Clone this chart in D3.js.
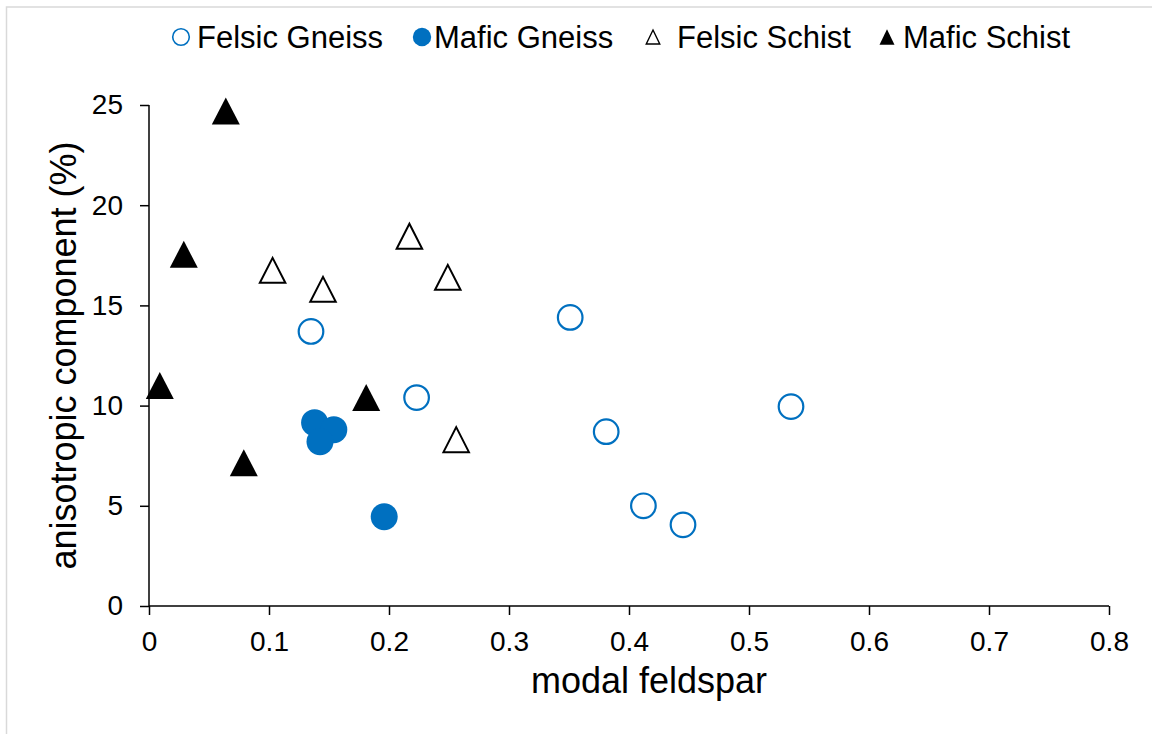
<!DOCTYPE html>
<html>
<head>
<meta charset="utf-8">
<script src="https://cdn.jsdelivr.net/npm/d3@7"></script>
<style>
  html, body { margin: 0; padding: 0; background: #fff; }
  svg text { font-family: "Liberation Sans", Arial, sans-serif; fill: #000; }
</style>
</head>
<body>
<div id="chart"></div>
<script>
const width = 1152;
const height = 734;

// [modal feldspar, anisotropic component %]
const felsicGneiss = [[0.135, 13.7], [0.223, 10.4], [0.351, 14.4], [0.381, 8.7], [0.412, 5.0], [0.445, 4.05], [0.535, 9.95]];
const maficGneiss  = [[0.138, 9.15], [0.154, 8.8], [0.1425, 8.2], [0.196, 4.45]];
const felsicSchist = [[0.103, 16.75], [0.145, 15.8], [0.217, 18.45], [0.249, 16.4], [0.256, 8.3]];
const maficSchist  = [[0.064, 24.7], [0.029, 17.55], [0.009, 11.0], [0.079, 7.15], [0.181, 10.4]];

const seriesNames = ["Felsic Gneiss", "Mafic Gneiss", "Felsic Schist", "Mafic Schist"];
const xTicks = [0, 0.1, 0.2, 0.3, 0.4, 0.5, 0.6, 0.7, 0.8];
const yTicks = [0, 5, 10, 15, 20, 25];

const blue = "#0070C0";

const svg = d3.select("#chart").append("svg")
  .attr("width", width)
  .attr("height", height);

// light frame of the chart area
svg.append("rect")
  .attr("x", 6.5).attr("y", 7)
  .attr("width", width + 20).attr("height", height + 20)
  .attr("fill", "none")
  .attr("stroke", "#d9d9d9")
  .attr("stroke-width", 1.5);

const x = d3.scaleLinear().domain([0, 0.8]).range([149, 1109]);
const y = d3.scaleLinear().domain([0, 25]).range([606, 105]);

const xAxis = svg.append("g")
  .attr("transform", `translate(0,${y(0)})`)
  .call(d3.axisBottom(x).tickValues(xTicks).tickSize(9).tickPadding(16).tickFormat(d => d === 0 ? "0" : d3.format(".1f")(d)));

const yAxis = svg.append("g")
  .attr("transform", `translate(${x(0)},0)`)
  .call(d3.axisLeft(y).tickValues(yTicks).tickSize(9).tickPadding(17));

[xAxis, yAxis].forEach(g => {
  g.select("path.domain").attr("stroke", "#000").attr("stroke-width", 1.5);
  g.selectAll("line").attr("stroke", "#000").attr("stroke-width", 1.5);
  g.selectAll("text").attr("font-size", "28px").attr("fill", "#000")
    .attr("font-family", "'Liberation Sans', Arial, sans-serif");
});
xAxis.select("path.domain").attr("d", `M${x(0)},0H${x(0.8)}`);
yAxis.select("path.domain").attr("d", `M0,${y(25)}V${y(0)}`);

// axis titles
svg.append("text")
  .attr("x", 649)
  .attr("y", 693)
  .attr("text-anchor", "middle")
  .attr("font-size", "36px")
  .text("modal feldspar");

svg.append("text")
  .attr("transform", `translate(76,${(y(0) + y(25)) / 2}) rotate(-90)`)
  .attr("text-anchor", "middle")
  .attr("font-size", "36px")
  .text("anisotropic component (%)");

// markers
const tri = (w, h) => `M0,${-h / 2}L${w / 2},${h / 2}L${-w / 2},${h / 2}Z`;

svg.append("g").selectAll("circle").data(felsicGneiss).join("circle")
  .attr("cx", d => x(d[0])).attr("cy", d => y(d[1])).attr("r", 12.3)
  .attr("fill", "#fff").attr("stroke", blue).attr("stroke-width", 2.2);

svg.append("g").selectAll("circle").data(maficGneiss).join("circle")
  .attr("cx", d => x(d[0])).attr("cy", d => y(d[1])).attr("r", 13.5)
  .attr("fill", blue);

svg.append("g").selectAll("path").data(felsicSchist).join("path")
  .attr("transform", d => `translate(${x(d[0])},${y(d[1])})`)
  .attr("d", tri(25.5, 25))
  .attr("fill", "#fff").attr("stroke", "#000").attr("stroke-width", 2);

svg.append("g").selectAll("path").data(maficSchist).join("path")
  .attr("transform", d => `translate(${x(d[0])},${y(d[1])})`)
  .attr("d", tri(28, 27))
  .attr("fill", "#000");

// legend
const legend = svg.append("g").attr("transform", "translate(0,37)");
const legendX = [181, 422, 653, 887];
seriesNames.forEach((name, i) => {
  const g = legend.append("g").attr("transform", `translate(${legendX[i]},0)`);
  if (i === 0) g.append("circle").attr("r", 8.3).attr("fill", "#fff").attr("stroke", blue).attr("stroke-width", 1.6);
  if (i === 1) g.append("circle").attr("r", 9.2).attr("fill", blue);
  if (i === 2) g.append("path").attr("d", tri(13.5, 14)).attr("fill", "#fff").attr("stroke", "#000").attr("stroke-width", 1.4);
  if (i === 3) g.append("path").attr("d", tri(15, 15.5)).attr("fill", "#000");
  g.append("text")
    .attr("x", i === 0 ? 16 : i === 1 ? 12 : i === 2 ? 24 : 16)
    .attr("y", 11)
    .attr("font-size", "31px")
    .text(name);
});
</script>
</body>
</html>
